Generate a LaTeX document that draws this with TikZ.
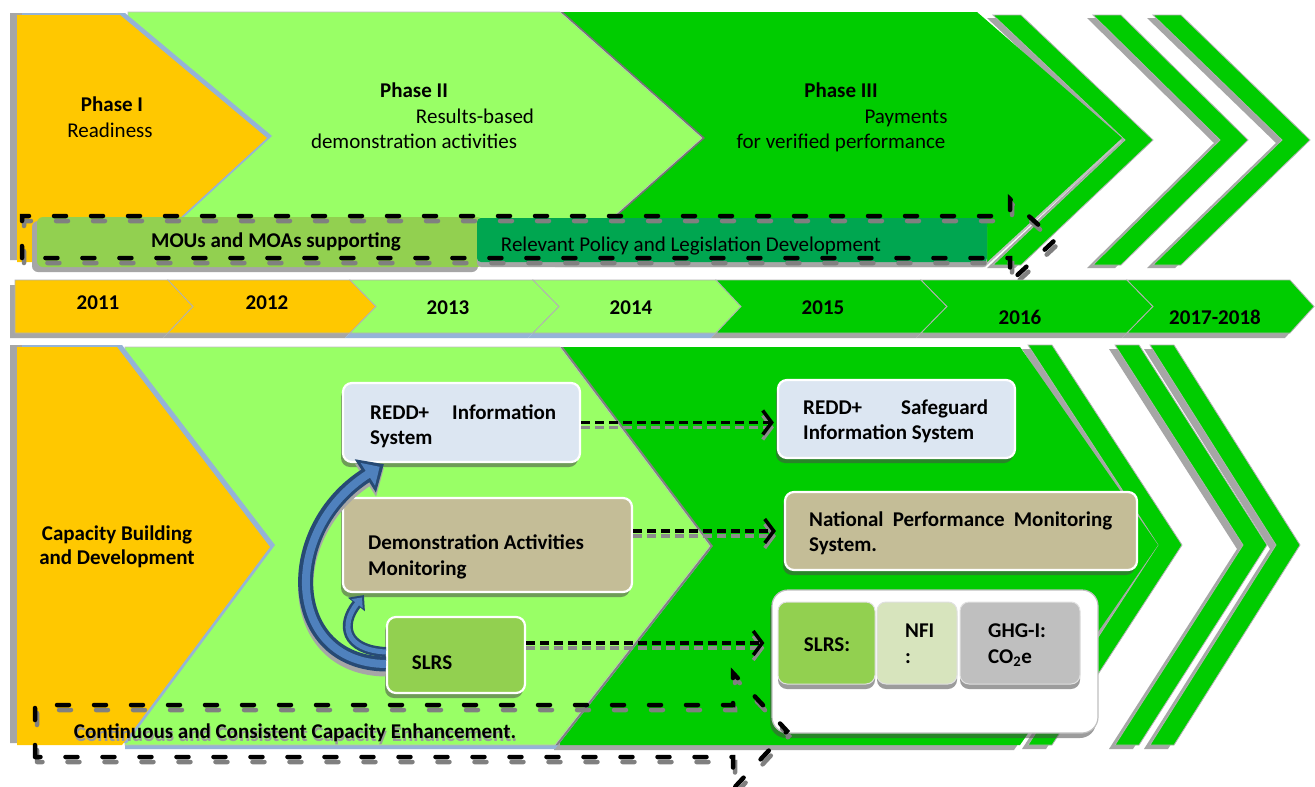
\documentclass[tikz,border=0pt]{standalone}
\usepackage{fontspec}
\setmainfont{Carlito}
\usetikzlibrary{arrows.meta,shadows}
\definecolor{cYel}{HTML}{FFC800}
\definecolor{cLg}{HTML}{99FF66}
\definecolor{cGr}{HTML}{00CC00}
\definecolor{cMou}{HTML}{92D050}
\definecolor{cPol}{HTML}{00A650}
\definecolor{cBlu}{HTML}{DCE6F2}
\definecolor{cTan}{HTML}{C4BD97}
\definecolor{cNfi}{HTML}{D7E4BD}
\definecolor{cGhg}{HTML}{BFBFBF}
\definecolor{cSh}{HTML}{A6A6A6}
\definecolor{cArr}{HTML}{4F81BD}
\definecolor{cArrD}{HTML}{274A74}
\definecolor{cBsh}{HTML}{95B3D7}
% top phase shapes
\newcommand\ptOne[1]{\path[#1] (17,15) -- (120,15) -- (267,138) -- (132,262) -- (17,262) -- cycle;}
\newcommand\ptTwo[1]{\path[#1] (128,12) -- (560,12) -- (702,138) -- (560,264) -- (128,264) -- cycle;}
\newcommand\ptThree[1]{\path[#1] (555,12) -- (977,12) -- (1122,138) -- (985,264) -- (555,264) -- cycle;}
% bottom phase shapes
\newcommand\pbOne[1]{\path[#1] (17,347) -- (117,347) -- (270,547) -- (122,745) -- (17,745) -- cycle;}
\newcommand\pbTwo[1]{\path[#1] (125,347) -- (560,347) -- (710,546) -- (555,745) -- (125,745) -- cycle;}
\newcommand\pbThree[1]{\path[#1] (560,347) -- (1020,347) -- (1158,545) -- (1020,745) -- (560,745) -- cycle;}
% chevron: opts, x0, x0+w, outer tip, ytop, ymid, ybot, inner tip
\newcommand\chev[8]{\path[#1] (#2,#5) -- (#3,#5) -- (#4,#6) -- (#3,#7) -- (#2,#7) -- (#8,#6) -- cycle;}
% timeline segment: opts, L, R, tip, notch
\newcommand\seg[5]{\path[#1] (#2,280) -- (#3,280) -- (#4,306.5) -- (#3,333) -- (#2,333) -- (#5,306.5) -- cycle;}
\newcommand\topdash[1]{\path[#1] (22,258) -- (22,216) -- (1010,216) -- (1010,199) -- (1055,240) -- (1010,282) -- (1010,258) -- cycle;}
\newcommand\botdash[1]{\path[#1] (35,757) -- (35,705) -- (733,705) -- (733,673) -- (787,731) -- (733,789) -- (733,757) -- cycle;}
\begin{document}
\begin{tikzpicture}[x=1pt,y=-1pt,
  txt/.style={inner sep=0pt, anchor=base, font=\fontsize{21}{25}\selectfont},
  btxt/.style={inner sep=0pt, anchor=base, font=\fontsize{21}{25}\selectfont\bfseries},
  boxtxt/.style={inner sep=0pt, anchor=base west, font=\fontsize{21}{25}\selectfont\bfseries},
  yr/.style={inner sep=0pt, anchor=base, font=\fontsize{21}{24}\selectfont\bfseries},
  outl/.style={draw=black!30, line width=0.8pt},
  rbox/.style={rounded corners=9pt, draw=white, line width=2.2pt, inner sep=0pt,
    drop shadow={shadow xshift=-2pt, shadow yshift=-5pt, fill=black!70, opacity=0.55}},
  ibox/.style={rounded corners=9pt, draw=black!12, line width=1pt, inner sep=0pt,
    drop shadow={shadow xshift=0pt, shadow yshift=-5pt, fill=black!70, opacity=0.55}},
  dline/.style={line width=4.5pt, line cap=round, dash pattern=on 12pt off 25pt},
  conn/.style={line width=3.5pt, dash pattern=on 9pt off 5pt,
    -{Straight Barb[length=9pt,width=24pt,line width=3.5pt]}},
]
\useasboundingbox (0,0) rectangle (1315,787);
\fill[white] (0,0) rectangle (1315,787);

%% ================= TOP SECTION =================
\chev{fill=cSh, shift={(-6,3)}}{993}{1021}{1153}{15}{140}{265}{1125}
\chev{fill=cSh, shift={(-6,3)}}{1093}{1121}{1248}{15}{140}{265}{1220}
\chev{fill=cSh, shift={(-6,3)}}{1153}{1181}{1310}{15}{140}{265}{1282}
\chev{fill=cGr, outl}{993}{1021}{1153}{15}{140}{265}{1125}
\chev{fill=cGr, outl}{1093}{1121}{1248}{15}{140}{265}{1220}
\chev{fill=cGr, outl}{1153}{1181}{1310}{15}{140}{265}{1282}
\ptThree{fill=black!25, shift={(0,3)}}
\ptThree{fill=cGr}
\ptTwo{fill=black!55, shift={(3,0)}}
\ptTwo{fill=cLg, draw=black!25, line width=0.6pt}
\ptOne{fill=cSh, shift={(-7,-2)}}
\ptOne{fill=cBsh, shift={(5,-2)}}
\ptOne{fill=cYel}

\node[btxt] (p1a) at (112,111) {Phase I};
\node[txt]  (p1b) at (110,137) {Readiness};
\node[btxt] (p2a) at (414,97) {Phase II};
\node[txt]  (p2b) at (475,123) {Results-based};
\node[txt]  (p2c) at (414,148) {demonstration activities};
\node[btxt] (p3a) at (841,97) {Phase III};
\node[txt]  (p3b) at (906,123) {Payments};
\node[txt]  (p3c) at (841,148) {for verified performance};

% MOU and policy boxes
\fill[cSh, rounded corners=6pt] (32,221) rectangle (478,272);
\fill[cMou, rounded corners=6pt] (37,217) rectangle (483,267);
\fill[cSh, rounded corners=4pt] (477,223) rectangle (987,267);
\fill[cPol, rounded corners=4pt] (477,218) rectangle (987,262);
\node[btxt] (mou) at (276,247) {MOUs and MOAs supporting};
\node[txt]  (pol) at (691,251) {Relevant Policy and Legislation Development};

% dashed block arrow outline
\topdash{draw=black!50, dline, shift={(2,5)}}
\topdash{draw=black, dline}

%% ================= TIMELINE =================
\seg{fill=cSh, shift={(-5,5)}}{15}{168}{193}{15}
\seg{fill=cSh, shift={(-5,5)}}{168}{350}{376}{193}
\seg{fill=cBsh, shift={(-5,5)}}{350}{533}{559}{376}
\seg{fill=cBsh, shift={(-5,5)}}{533}{716}{741}{559}
\seg{fill=cSh, shift={(-5,5)}}{716}{921}{947}{741}
\seg{fill=cSh, shift={(-5,5)}}{921}{1127}{1153}{947}
\seg{fill=cSh, shift={(-5,5)}}{1127}{1290}{1314}{1153}
\seg{fill=cYel, outl}{15}{168}{193}{15}
\seg{fill=cYel, outl}{168}{350}{376}{193}
\seg{fill=cLg, outl}{350}{533}{559}{376}
\seg{fill=cLg, outl}{533}{716}{741}{559}
\seg{fill=cGr, outl}{716}{921}{947}{741}
\seg{fill=cGr, outl}{921}{1127}{1153}{947}
\seg{fill=cGr, outl}{1127}{1290}{1314}{1153}
\node[yr] (y11) at (98,309) {2011};
\node[yr] (y12) at (267,309) {2012};
\node[yr] (y13) at (448,314) {2013};
\node[yr] (y14) at (631,314) {2014};
\node[yr] (y15) at (823,314) {2015};
\node[yr] (y16) at (1020,324) {2016};
\node[yr] (y17) at (1215,324) {2017-2018};

%% ================= BOTTOM SECTION =================
\chev{fill=cSh, shift={(-6,4)}}{1028}{1052}{1182}{345}{545}{745}{1158}
\chev{fill=cSh, shift={(-6,4)}}{1115}{1139}{1267}{345}{545}{745}{1243}
\chev{fill=cSh, shift={(-6,4)}}{1150}{1174}{1300}{345}{545}{745}{1276}
\chev{fill=cGr, outl}{1028}{1052}{1182}{345}{545}{745}{1158}
\chev{fill=cGr, outl}{1115}{1139}{1267}{345}{545}{745}{1243}
\chev{fill=cGr, outl}{1150}{1174}{1300}{345}{545}{745}{1276}
\pbThree{fill=cSh, shift={(-6,5)}}
\pbThree{fill=cGr}
\pbTwo{fill=cBsh, shift={(0,4)}}
\pbTwo{fill=black!50, shift={(3,0)}}
\pbTwo{fill=cLg, draw=black!25, line width=0.6pt}
\pbOne{fill=cSh, shift={(-7,-2)}}
\pbOne{fill=cBsh, shift={(5,-2)}}
\pbOne{fill=cYel}

\node[btxt] (cb1) at (117,540) {Capacity Building};
\node[btxt] (cb2) at (117,564) {and Development};

% boxes
\node[rbox, fill=cBlu, minimum width=237pt, minimum height=79pt] (ris) at (461.5,422.5) {};
\node[rbox, fill=cTan, minimum width=289pt, minimum height=94pt] (dam) at (487.5,545) {};
\node[rbox, fill=cMou, minimum width=138pt, minimum height=76pt] (slrs) at (456,655) {};
\node[rbox, fill=cBlu, minimum width=237pt, minimum height=78pt] (rsis) at (896.5,419) {};
\node[rbox, fill=cTan, minimum width=352pt, minimum height=78pt] (npms) at (961,531) {};
\node[rbox, fill=white, draw=black!25, line width=1.2pt, rounded corners=16pt,
      minimum width=326pt, minimum height=143pt] (wb) at (935,661.5) {};
\node[ibox, fill=cMou, minimum width=97pt, minimum height=82pt] (s2) at (826.5,643) {};
\node[ibox, fill=cNfi, minimum width=80pt, minimum height=82pt] (nfi) at (917,643) {};
\node[ibox, fill=cGhg, minimum width=120pt, minimum height=82pt] (ghg) at (1020,643) {};

% box texts
\node[boxtxt] (tr1) at (370,419.5) {\hbox to 186pt{REDD+\hfill Information}};
\node[boxtxt] (tr2) at (370,444.5) {System};
\node[boxtxt] (td1) at (368,549.5) {Demonstration Activities};
\node[boxtxt] (td2) at (368,575.5) {Monitoring};
\node[btxt]   (ts1) at (432,669.5) {SLRS};
\node[boxtxt] (tg1) at (803,414.5) {\hbox to 185pt{REDD+\hfill Safeguard}};
\node[boxtxt] (tg2) at (803,439.5) {Information System};
\node[boxtxt] (tn1) at (809,526.5) {\hbox to 303pt{National\hfill Performance\hfill Monitoring}};
\node[boxtxt] (tn2) at (809,551.5) {System.};
\node[btxt]   (ts2) at (827,651.5) {SLRS:};
\node[boxtxt] (tf1) at (905,637) {NFI};
\node[boxtxt] (tf2) at (905,663) {:};
\node[boxtxt] (tgh1) at (988,637) {GHG-I:};
\node[boxtxt] (tgh2) at (988,663) {CO\textsubscript{2}e};

% dashed connectors (shadow + main)
\draw[conn, draw=black!45, shorten >=3pt] ([yshift=-5pt]ris.east) -- ([yshift=-5pt]rsis.west |- ris.east);
\draw[conn, draw=black, shorten >=3pt] (ris.east) -- (rsis.west |- ris.east);
\draw[conn, draw=black!45, shorten >=8pt] ([yshift=-5pt]dam.north east |- npms.west) -- ([yshift=-5pt]npms.west);
\draw[conn, draw=black, shorten >=8pt] (dam.north east |- npms.west) -- (npms.west);
\draw[conn, draw=black!45, shorten >=7pt] ([yshift=-5pt]slrs.north east |- s2.west) -- ([yshift=-5pt]wb.west |- s2.west);
\draw[conn, draw=black, shorten >=7pt] (slrs.north east |- s2.west) -- (wb.west |- s2.west);

% curved blue arrows
\draw[cSh, line width=15pt, -{Triangle[length=22pt,width=38pt]}]
  ([yshift=-14pt]slrs.west) .. controls (285,668) and (280,535) .. ([xshift=42pt,yshift=-5pt]ris.south west);
\draw[cArrD, line width=15pt, -{Triangle[length=22pt,width=38pt]}]
  ([yshift=-9pt]slrs.west) .. controls (285,663) and (280,530) .. ([xshift=42pt,yshift=-1pt]ris.south west);
\draw[cArr, line width=8pt, shorten >=5pt, -{Triangle[length=14pt,width=26pt]}]
  ([yshift=-9pt]slrs.west) .. controls (285,663) and (280,530) .. ([xshift=42pt,yshift=-1pt]ris.south west);
\draw[cArrD, line width=10pt, -{Triangle[length=12pt,width=21pt]}]
  ([yshift=3pt]slrs.west) .. controls (345,650) and (340,625) .. ([xshift=22pt,yshift=-2pt]dam.south west);
\draw[cArr, line width=5pt, shorten >=3pt, -{Triangle[length=8pt,width=14pt]}]
  ([yshift=3pt]slrs.west) .. controls (345,650) and (340,625) .. ([xshift=22pt,yshift=-2pt]dam.south west);

% bottom dashed block arrow
\botdash{draw=black!50, dline, shift={(2,5)}}
\botdash{draw=black, dline}
\node[btxt, text=black!40] (ccs) at (296,741) {Continuous and Consistent Capacity Enhancement.};
\node[btxt] (cc) at (295,738) {Continuous and Consistent Capacity Enhancement.};
\end{tikzpicture}
\end{document}
